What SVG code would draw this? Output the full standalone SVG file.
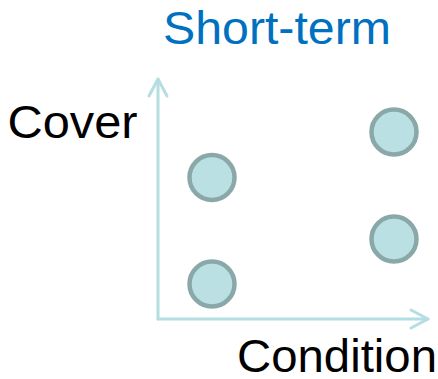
<svg xmlns="http://www.w3.org/2000/svg" width="438" height="379" viewBox="0 0 438 379">
<style>
.lbl{font-family:"Liberation Sans",Arial,sans-serif;font-size:47px}
.node circle{fill:#BBE0E3;stroke:#8AA8A8;stroke-width:4.5}
.axis{fill:none;stroke:#B5DEE2;stroke-width:3;stroke-linecap:round;stroke-linejoin:round}
</style>
<rect width="438" height="379" fill="#fff"/>
<g id="connectors">
<path class="axis" d="M158 319 L158 79"/>
<path class="axis" d="M149 96 L158 79 L167 96"/>
<path class="axis" d="M158 319 L428 319"/>
<path class="axis" d="M411 310 L428 319 L411 328"/>
</g>
<g id="node1" class="node"><circle cx="212" cy="177.5" r="22.5"/></g>
<g id="node2" class="node"><circle cx="212" cy="284" r="22.5"/></g>
<g id="node3" class="node"><circle cx="394" cy="132" r="22.5"/></g>
<g id="node4" class="node"><circle cx="394" cy="239" r="22.5"/></g>
<text class="lbl" x="163" y="43.5" fill="#0070C0" textLength="228" lengthAdjust="spacingAndGlyphs">Short-term</text>
<text class="lbl" x="7.5" y="138" fill="#000" textLength="130" lengthAdjust="spacingAndGlyphs">Cover</text>
<text class="lbl" x="237" y="372" fill="#000" textLength="200" lengthAdjust="spacingAndGlyphs">Condition</text>
</svg>
